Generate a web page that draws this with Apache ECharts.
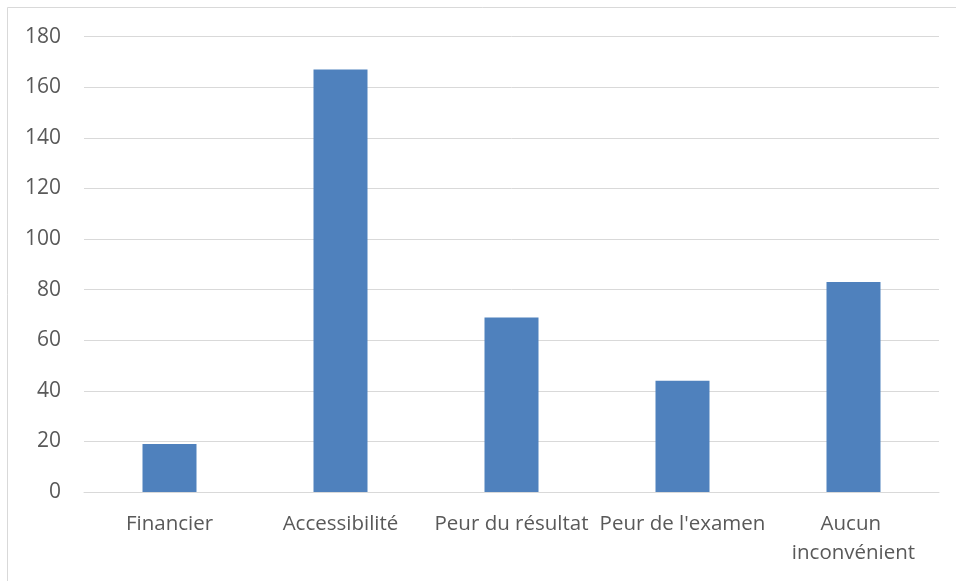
<!DOCTYPE html>
<html>
<head>
<meta charset="utf-8">
<script src="https://cdn.jsdelivr.net/npm/echarts@6/dist/echarts.min.js"></script>
<style>
  html, body { margin: 0; padding: 0; background: #fff; }
  #chart { width: 956px; height: 581px; }
</style>
</head>
<body>
<div id="chart"></div>
<script>
// Reasons cited, number of respondents per reason
const categories = ['Financier', 'Accessibilité', 'Peur du résultat', "Peur de l'examen", 'Aucun inconvénient'];
const counts = [19, 167, 69, 44, 83];
const yTicks = [0, 20, 40, 60, 80, 100, 120, 140, 160, 180];

const textColor = '#595959';
const fontFamily = '"Open Sans", "Noto Sans", sans-serif';

const chart = echarts.init(document.getElementById('chart'), null, { renderer: 'canvas' });
chart.setOption({
  animation: false,
  backgroundColor: '#ffffff',
  graphic: [{
    type: 'rect',
    shape: { x: 7.5, y: 7.5, width: 1200, height: 1200 },
    style: { fill: 'none', stroke: '#d9d9d9', lineWidth: 1 },
    silent: true
  }],
  grid: { left: 84, right: 17, top: 36.7, bottom: 89, containLabel: false },
  xAxis: {
    type: 'category',
    data: categories,
    axisLine: { show: true, lineStyle: { color: '#d9d9d9', width: 1 } },
    axisTick: { show: false },
    axisLabel: {
      color: textColor,
      fontFamily: fontFamily,
      fontSize: 20.5,
      margin: 17,
      lineHeight: 29.5,
      interval: 0,
      width: 168,
      overflow: 'break'
    }
  },
  yAxis: {
    type: 'value',
    min: yTicks[0],
    max: yTicks[yTicks.length - 1],
    interval: yTicks[1] - yTicks[0],
    axisLine: { show: false },
    axisTick: { show: false },
    splitLine: { lineStyle: { color: '#d9d9d9', width: 1 } },
    axisLabel: {
      color: textColor,
      fontFamily: fontFamily,
      fontSize: 21,
      margin: 23
    }
  },
  series: [{
    type: 'bar',
    data: counts,
    barWidth: 54,
    itemStyle: { color: '#4f81bd' }
  }]
});
</script>
</body>
</html>
